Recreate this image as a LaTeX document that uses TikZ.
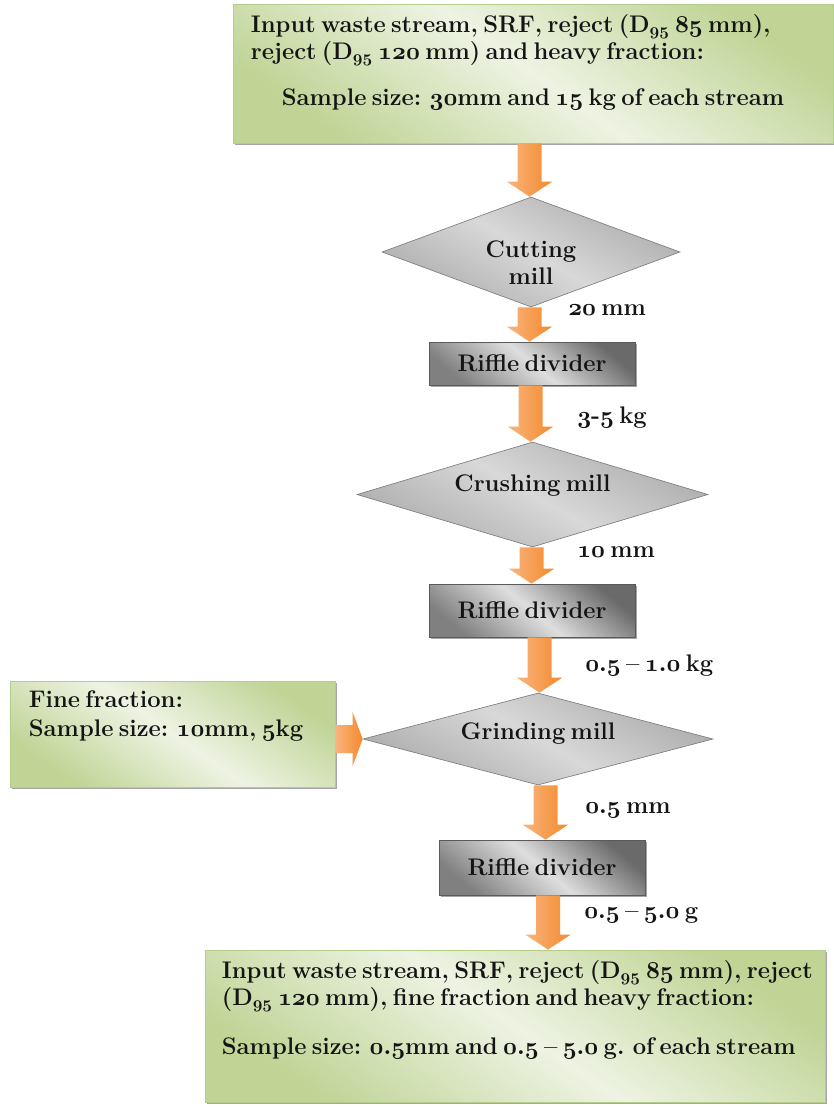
\documentclass[tikz,border=0pt]{standalone}
\usepackage{fontspec}
\setmainfont{Latin Modern Roman}[FakeStretch=0.99, WordSpace=0.6]
\usetikzlibrary{shapes.geometric,shadows,calc}

\definecolor{greenD}{HTML}{BFD495}
\definecolor{greenL}{HTML}{EEF3E3}
\definecolor{greenB}{HTML}{B5CD8A}
\definecolor{orangeD}{HTML}{F38A2C}
\definecolor{orangeL}{HTML}{F9B47E}
\definecolor{diaEdge}{HTML}{7F7F7F}
\definecolor{diaD}{HTML}{ADADAD}
\definecolor{diaL}{HTML}{D8D8D8}
\definecolor{metD}{HTML}{6A6A6A}
\definecolor{metL}{HTML}{DEDEDE}
\definecolor{metEdge}{HTML}{5A5A5A}

% old-style figures and the D95 particle size
\newcommand\osn[1]{\scalebox{1.05}{\boldmath$\mathnormal{#1}$}}
\newcommand\Dsub{D\textsubscript{\osn{95}}}

% vertical block arrow from the south of #2 to the north of #3,
% shifted by #1 px from the centre of #2
\newcommand\flowdown[3][0]{%
  \shade[flowarrow] let \p1=(#2.south), \p2=(#3.north), \n1={\x1+(#1)*0.75pt} in
    ({\n1-9pt},\y1) -- ({\n1-9pt},{\y2+11.25pt})
    -- ({\n1-17pt},{\y2+11.25pt}) -- (\n1,\y2)
    -- ({\n1+17pt},{\y2+11.25pt}) -- ({\n1+9pt},{\y2+11.25pt})
    -- ({\n1+9pt},\y1) -- cycle;}

\tikzset{
  every node/.style={font=\fontsize{18}{20.25}\selectfont\bfseries, text=black!92},
  greenbox/.style={rectangle, draw=greenB, line width=0.6pt, inner sep=0pt,
    top color=greenD, bottom color=greenD, middle color=greenL, shading angle=-35,
    drop shadow={shadow xshift=1.8pt, shadow yshift=-1.8pt, fill=black, opacity=0.35}},
  millbox/.style={diamond, draw=diaEdge, line width=0.5pt, inner sep=0pt,
    top color=diaD, bottom color=diaD, middle color=diaL, shading angle=-30},
  riffle/.style={rectangle, draw=metEdge, line width=0.5pt, inner sep=0pt,
    top color=metD, bottom color=metD!85, middle color=metL, shading angle=-40,
    drop shadow={shadow xshift=1.8pt, shadow yshift=-1.8pt, fill=black, opacity=0.35}},
  flowarrow/.style={left color=orangeL, right color=orangeD},
  boxtext/.style={anchor=base west, inner sep=0pt},
  milltext/.style={anchor=base, inner sep=0pt, align=center},
  sizelabel/.style={anchor=base west, inner sep=0pt},
}

\begin{document}
\begin{tikzpicture}[x=0.75pt, y=-0.75pt]
  \useasboundingbox (0,0) rectangle (833,1107);

  % input box
  \node[greenbox, minimum width=600*0.75pt, minimum height=139*0.75pt] (input) at (533,73.5) {};
  \node[boxtext] (in1) at ($(input.north west)+(18,29)$)
    {Input waste stream, SRF, reject (\Dsub\ \osn{85} mm),};
  \node[boxtext] (in2) at ($(input.north west)+(18,56)$)
    {reject (\Dsub\ \osn{120} mm) and heavy fraction:};
  \node[anchor=base, inner sep=0pt] (in3) at ($(input.north)+(0,102)$)
    {Sample size: \osn{30}mm and \osn{15} kg of each stream};

  % processing chain
  \node[millbox, aspect=2.7, minimum width=298*0.75pt, minimum height=110*0.75pt] (cut) at (531,252) {};
  \node[milltext] (cutT) at ($(cut.center)+(0,32)$) {Cutting\\mill};
  \node[riffle, minimum width=206*0.75pt, minimum height=43*0.75pt] (rif1) at (532,363.5) {Riffle divider};
  \node[millbox, aspect=3.3, minimum width=351*0.75pt, minimum height=105*0.75pt] (crush) at (532.5,494.5) {};
  \node[milltext] (crushT) at ($(crush.center)+(0,-3)$) {Crushing mill};
  \node[riffle, minimum width=206*0.75pt, minimum height=53*0.75pt] (rif2) at (532,610.5) {Riffle divider};
  \node[millbox, aspect=3.8, minimum width=350*0.75pt, minimum height=92*0.75pt] (grind) at (538,739) {};
  \node[milltext] (grindT) at ($(grind.center)+(0,0)$) {Grinding mill};
  \node[riffle, minimum width=206*0.75pt, minimum height=55*0.75pt] (rif3) at (542,867.5) {Riffle divider};

  % fine fraction feed
  \node[greenbox, minimum width=325*0.75pt, minimum height=106*0.75pt] (fine) at (172.5,734) {};
  \node[boxtext] (fi1) at ($(fine.north west)+(19,27)$) {Fine fraction:};
  \node[boxtext] (fi2) at ($(fine.north west)+(19,56)$) {Sample size: \osn{10}mm, \osn{5}kg};

  % output box
  \node[greenbox, minimum width=620*0.75pt, minimum height=152*0.75pt] (output) at (515,1026) {};
  \node[boxtext] (out1) at ($(output.north west)+(17,29)$)
    {Input waste stream, SRF, reject (\Dsub\ \osn{85} mm), reject};
  \node[boxtext] (out2) at ($(output.north west)+(17,56)$)
    {(\Dsub\ \osn{120} mm), fine fraction and heavy fraction:};
  \node[boxtext] (out3) at ($(output.north west)+(17,105)$)
    {Sample size: \osn{0.5}mm and \osn{0.5} – \osn{5.0} g. of each stream};

  % block arrows
  \flowdown[-3.5]{input}{cut}
  \flowdown[-1.5]{cut}{rif1}
  \flowdown[-1.5]{rif1}{crush}
  \flowdown[-1]{crush}{rif2}
  \flowdown[7.5]{rif2}{grind}
  \flowdown[7.5]{grind}{rif3}
  \flowdown[6]{rif3}{output}
  \shade[flowarrow] let \p1=(fine.east), \p2=(grind.west) in
    (\x1,{\y2+10.5pt}) -- ({\x2-7.5pt},{\y2+10.5pt}) -- ({\x2-7.5pt},{\y2+20.25pt})
    -- (\x2,\y2) -- ({\x2-7.5pt},{\y2-20.25pt}) -- ({\x2-7.5pt},{\y2-10.5pt})
    -- (\x1,{\y2-10.5pt}) -- cycle;

  % sizes and masses passed on
  \node[sizelabel] (l1) at (568,315) {\osn{20} mm};
  \node[sizelabel] (l2) at (577,423) {\osn{3}-\osn{5} kg};
  \node[sizelabel] (l3) at (577,557) {\osn{10} mm};
  \node[sizelabel] (l4) at (585,671) {\osn{0.5} – \osn{1.0} kg};
  \node[sizelabel] (l5) at (585,813) {\osn{0.5} mm};
  \node[sizelabel] (l6) at (584,918) {\osn{0.5} – \osn{5.0} g};
\end{tikzpicture}
\end{document}
